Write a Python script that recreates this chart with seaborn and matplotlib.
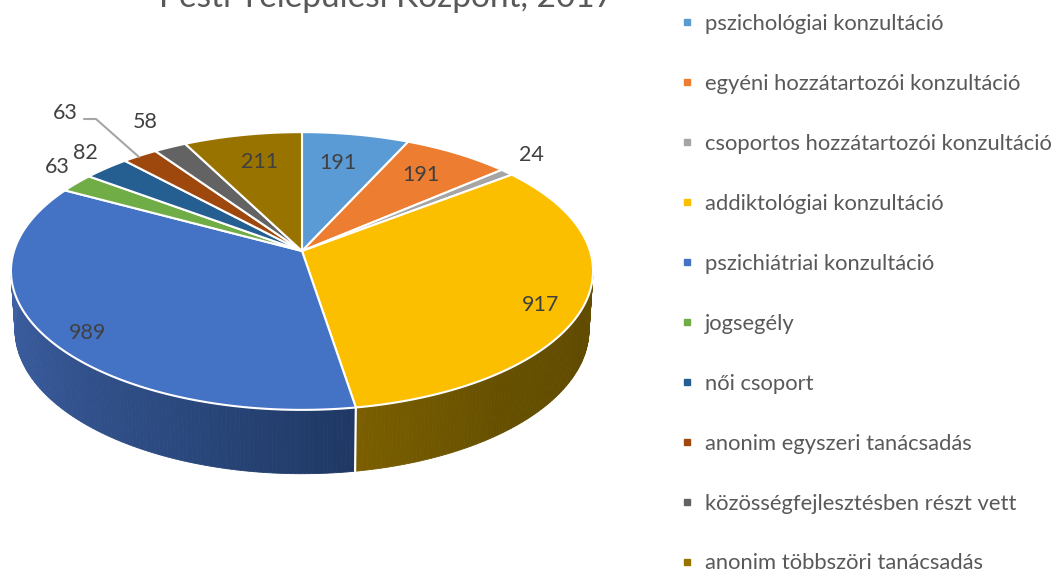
import numpy as np
import matplotlib
matplotlib.use("Agg")
import matplotlib.pyplot as plt
from matplotlib.lines import Line2D
from matplotlib.patches import Polygon
import seaborn as sns

title = "Pesti Települési Központ, 2017"
categories = ["pszichológiai konzultáció", "egyéni hozzátartozói konzultáció",
              "csoportos hozzátartozói konzultáció", "addiktológiai konzultáció",
              "pszichiátriai konzultáció", "jogsegély", "női csoport",
              "anonim egyszeri tanácsadás", "közösségfejlesztésben részt vett",
              "anonim többszöri tanácsadás"]
values = [191, 191, 24, 917, 989, 63, 82, 63, 58, 211]
colors = ["#5B9BD5", "#ED7D31", "#A5A5A5", "#FBBF00", "#4472C4",
          "#70AD47", "#255E91", "#9E480E", "#636363", "#997300"]
side_ramps = {3: ["#7A5E00", "#665000", "#614B00", "#665000"],
              4: ["#3F63A6", "#365796", "#2C4A80", "#1F3864"]}

sns.set_theme(style="white")
plt.rcParams["font.family"] = ["Lato", "DejaVu Sans"]
palette = sns.color_palette(colors)

fig = plt.figure(figsize=(10.56, 5.72), dpi=100)
ax = fig.add_axes([0, 0, 1, 1])
ax.set_xlim(0, 1056)
ax.set_ylim(572, 0)
ax.axis("off")

CX, K = 302.0, 0.144
def project(theta, y0, a, b):
    u, v = np.sin(theta), -np.cos(theta)
    d = 1 - K * v
    return CX + b * u / d, y0 + a * v / d
def top(t):
    return project(t, 251.0, 136.0, 288.0)
def bottom(t):
    return project(t, 309.0, 141.0, 284.0)

edges = np.cumsum([0] + values) / sum(values) * 2 * np.pi

# visible rim of the two front slices
for i, ramp in side_ramps.items():
    t = np.linspace(edges[i], edges[i + 1], 161)
    t = t[(-np.cos(t)) > -0.05]
    shades = sns.blend_palette(ramp, len(t) - 1)[::-1]
    for j in range(len(t) - 1):
        xt, yt = top(t[j:j + 2])
        xb, yb = bottom(t[j:j + 2])
        ax.add_patch(Polygon(np.c_[np.r_[xt, xb[::-1]], np.r_[yt, yb[::-1]]],
                             facecolor=shades[j], edgecolor=shades[j], lw=0.6, zorder=2))
xt, yt = top(edges[4])
xb, yb = bottom(edges[4])
ax.plot([xt, xb], [yt, yb], color="white", lw=1.6, zorder=3)

# top face
for i in range(len(values)):
    t = np.linspace(edges[i], edges[i + 1], 120)
    x, y = top(t)
    ax.add_patch(Polygon(np.c_[np.r_[CX, x], np.r_[251.0, y]], facecolor=palette[i],
                         edgecolor="white", lw=1.5, joinstyle="round", zorder=4))

# data labels
label_pos = [(338, 163), (421, 175), (531, 155), (541, 305), (88, 333),
             (57, 167), (85, 153), (65, 113), (145, 122), (260, 162)]
for v, (x, y) in zip(values, label_pos):
    ax.text(x, y, str(v), ha="center", va="center", fontsize=15.5, color="#404040", zorder=6)
ax.plot([84, 96, 139], [119, 119, 157], color="#A6A6A6", lw=1.5, zorder=5)

ax.text(386.5, 7, title, ha="center", va="baseline", fontsize=24, color="#595959", clip_on=False)

handles = [Line2D([], [], linestyle="none", marker="s", markersize=5, color=c, label=n)
           for c, n in zip(palette, categories)]
ax.legend(handles=handles, loc="upper left", bbox_to_anchor=(682, 14), bbox_transform=ax.transData,
          frameon=False, fontsize=15.8, labelcolor="#595959", labelspacing=1.82,
          handlelength=0.5, handletextpad=0.55, borderpad=0, borderaxespad=0)

fig.savefig("out.png", dpi=100)
